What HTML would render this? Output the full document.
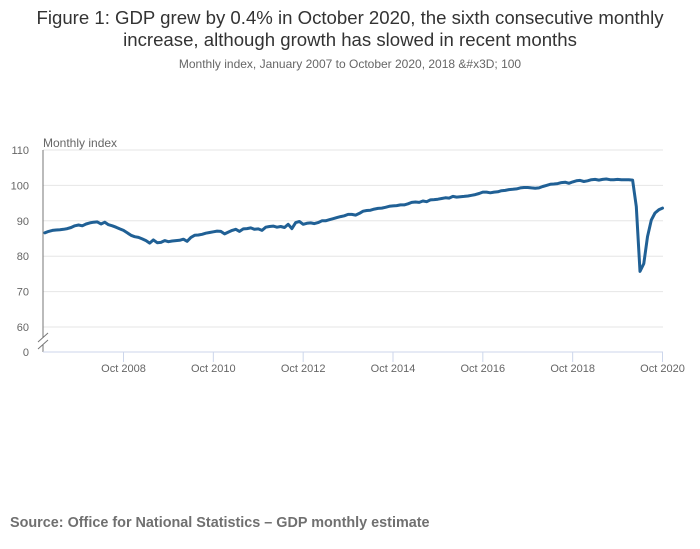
<!DOCTYPE html>
<html><head><meta charset="utf-8"><style>
body{margin:0;background:#fff;font-family:"Liberation Sans","DejaVu Sans",sans-serif;}
#wrap{position:relative;width:700px;height:549px;overflow:hidden}
svg text{font-family:"Liberation Sans","DejaVu Sans",sans-serif}
</style></head><body>
<div id="wrap">
<svg id="chart" width="700" height="549">
<text x="350" y="24" text-anchor="middle" font-size="18.6" fill="#333">Figure 1: GDP grew by 0.4% in October 2020, the sixth consecutive monthly</text>
<text x="350" y="46" text-anchor="middle" font-size="18.6" fill="#333">increase, although growth has slowed in recent months</text>
<text x="350" y="68" text-anchor="middle" font-size="12" fill="#666">Monthly index, January 2007 to October 2020, 2018 &amp;#x3D; 100</text>
<text x="43" y="147" font-size="12" fill="#666">Monthly index</text>
<g id="grid"></g><g id="axes"></g><g id="series"></g>
<text x="10" y="527" font-size="14.4" font-weight="bold" fill="#707070">Source: Office for National Statistics – GDP monthly estimate</text>
</svg>
</div>
<script>
const yTicks=[60,70,80,90,100,110];
const xTickLabels=["Oct 2008","Oct 2010","Oct 2012","Oct 2014","Oct 2016","Oct 2018","Oct 2020"];
const xTickMonths=[21,45,69,93,117,141,165];
const gdp=[
86.6,87.0,87.3,87.4,87.5,87.6,87.8,88.1,88.6,88.8,88.6,89.1,
89.4,89.6,89.7,89.1,89.6,88.9,88.6,88.2,87.7,87.3,86.6,85.9,
85.5,85.3,84.9,84.4,83.7,84.6,83.8,83.9,84.4,84.1,84.3,84.4,
84.5,84.8,84.2,85.3,85.9,86.0,86.2,86.5,86.7,86.9,87.1,87.0,
86.3,86.8,87.3,87.6,87.0,87.7,87.8,88.0,87.6,87.7,87.3,88.2,
88.4,88.5,88.2,88.4,88.1,89.0,87.8,89.5,89.8,89.0,89.3,89.4,
89.2,89.5,90.0,90.0,90.3,90.6,90.9,91.2,91.4,91.8,91.8,91.6,
92.1,92.7,92.9,93.0,93.3,93.5,93.6,93.8,94.1,94.2,94.3,94.5,
94.5,94.8,95.2,95.3,95.2,95.6,95.4,95.9,96.0,96.1,96.3,96.5,
96.4,96.9,96.7,96.8,96.9,97.0,97.2,97.4,97.7,98.1,98.1,97.9,
98.1,98.2,98.5,98.6,98.8,98.9,99.0,99.3,99.4,99.4,99.3,99.2,
99.3,99.7,100.0,100.3,100.4,100.5,100.8,100.9,100.6,101.0,101.3,101.4,
101.1,101.3,101.6,101.7,101.5,101.7,101.8,101.6,101.6,101.7,101.6,101.6,
101.6,101.5,94.0,75.7,77.9,85.5,90.2,92.2,93.1,93.6];
const NS='http://www.w3.org/2000/svg';
const x0=44.9,pxm=3.743,left=43,right=663;
const xs=m=>x0+m*pxm;
const ys=v=>150+(110-v)*3.54;
function mk(t,a,p){const e=document.createElementNS(NS,t);for(const k in a)e.setAttribute(k,a[k]);p.appendChild(e);return e;}
const grid=document.getElementById('grid'),axes=document.getElementById('axes'),series=document.getElementById('series');
yTicks.forEach(v=>{
 const l=mk('line',{x1:left,x2:right,y1:ys(v),y2:ys(v),stroke:'#e6e6e6','stroke-width':1},grid);
 
 
 const t=mk('text',{x:29,y:ys(v)+4,'text-anchor':'end','font-size':11,fill:'#666'},axes);
 t.textContent=v;
 
 
});
const z=mk('text',{x:29,y:356,'text-anchor':'end','font-size':11,fill:'#666'},axes);z.textContent='0';


const ya=mk('line',{x1:left,x2:left,y1:150,y2:338,stroke:'#777','stroke-width':1},axes);


const ya2=mk('line',{x1:left,x2:left,y1:345,y2:352,stroke:'#777','stroke-width':1},axes);


const br=mk('path',{d:'M38 342 L48 333 M38 349 L48 340',stroke:'#777','stroke-width':1,fill:'none'},axes);


const xa=mk('line',{x1:left,x2:right,y1:352,y2:352,stroke:'#ccd6eb','stroke-width':1},axes);


xTickMonths.forEach((m,i)=>{
 const tk=mk('line',{x1:xs(m),x2:xs(m),y1:352,y2:362,stroke:'#ccd6eb','stroke-width':1},axes);
 
 
 const t=mk('text',{x:xs(m),y:372,'text-anchor':'middle','font-size':11,fill:'#666'},axes);
 t.textContent=xTickLabels[i];
 
 
});
const d=gdp.map((v,i)=>(i?'L':'M')+xs(i).toFixed(1)+' '+ys(v).toFixed(1)).join(' ');
const p=mk('path',{d:d,fill:'none',stroke:'#206095','stroke-width':3,'stroke-linejoin':'round','stroke-linecap':'round'},series);


</script>
</body></html>
